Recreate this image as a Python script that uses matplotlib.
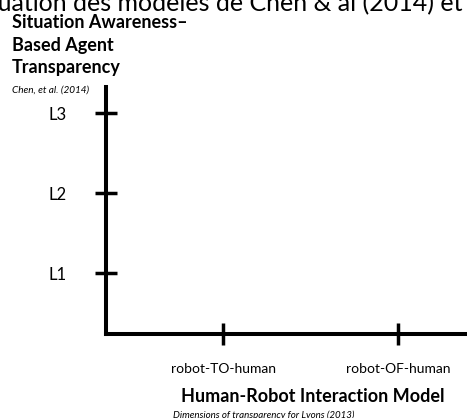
import matplotlib
matplotlib.use("Agg")
import matplotlib.pyplot as plt

# data: two transparency models crossed on two axes
hri_models = ["robot-TO-human", "robot-OF-human"]
hri_pos = [1, 2]
sat_levels = ["L1", "L2", "L3"]
sat_pos = [1, 2, 3]

plt.rcParams["font.family"] = ["Lato", "DejaVu Sans"]

W, H = 467, 418
fig = plt.figure(figsize=(W / 100, H / 100), dpi=100)

# axes box in pixel terms (left spine / bottom spine of the reference)
left, bottom, right, top = 106, 418 - 334, 467, 418 - 87
ax = fig.add_axes([left / W, bottom / H, (right - left) / W, (top - bottom) / H])

ax.set_xlim(0.331, 2.394)
ax.set_ylim(0.2375, 3.325)
ax.set_xticks(hri_pos)
ax.set_xticklabels(hri_models, fontsize=10)
ax.set_yticks(sat_pos)
ax.set_yticklabels(sat_levels, fontsize=12)

for s in ["top", "right"]:
    ax.spines[s].set_visible(False)
for s in ["left", "bottom"]:
    ax.spines[s].set_linewidth(2.9)
    ax.spines[s].set_capstyle("projecting")
ax.tick_params(axis="both", direction="inout", length=16, width=2.5, color="black")
ax.tick_params(axis="x", pad=13)
ax.tick_params(axis="y", pad=20)
ax.patch.set_visible(False)

# cropped slide title at the very top
fig.text(462 / W, (418 - 11) / H, "Évaluation des modèles de Chen & al (2014) et",
         ha="right", va="baseline", fontsize=18)

# y-axis caption
fig.text(12 / W, (418 - 22) / H, "Situation Awareness–", ha="left", va="center",
         fontsize=13, fontweight="bold")
fig.text(12 / W, (418 - 45) / H, "Based Agent", ha="left", va="center",
         fontsize=13, fontweight="bold")
fig.text(12 / W, (418 - 68) / H, "Transparency", ha="left", va="center",
         fontsize=13, fontweight="bold")
fig.text(12 / W, (418 - 90) / H, "Chen, et al. (2014)", ha="left", va="center",
         fontsize=7.2, style="italic")

# x-axis caption
fig.text(313 / W, (418 - 397) / H, "Human-Robot Interaction Model", ha="center",
         va="center", fontsize=13, fontweight="bold")
fig.text(173 / W, (418 - 415) / H, "Dimensions of transparency for Lyons (2013)",
         ha="left", va="center", fontsize=7, style="italic")

fig.savefig("out.png", dpi=100)
